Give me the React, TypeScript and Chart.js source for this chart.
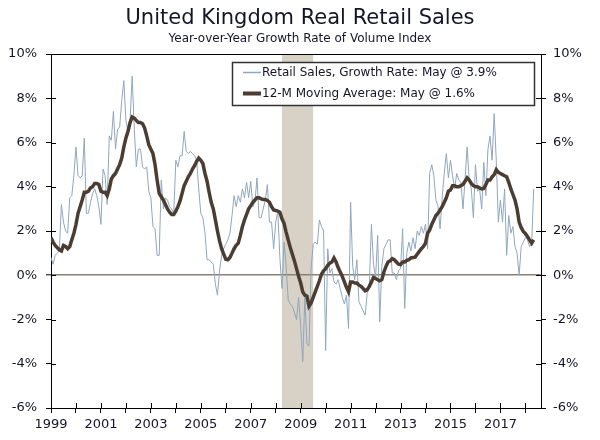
import React, { useEffect, useRef } from 'react';
import { Chart, registerables } from 'chart.js';

Chart.register(...registerables);
Chart.defaults.font.family = "'DejaVu Sans', Verdana, sans-serif";

// ---- data ----
const startYear = 1999; // first month = Jan 1999, one value per month
const titleText = 'United Kingdom Real Retail Sales';
const subtitleText = 'Year-over-Year Growth Rate of Volume Index';
const seriesLabels = [
  'Retail Sales, Growth Rate: May @ 3.9%',
  '12-M Moving Average: May @ 1.6%',
];

const retailSales: number[] = [
  // 1999
  0.8, 0.5, 0.9, 1.0, 1.1, 3.2, 2.4, 2.0, 1.9, 3.5, 3.6, 4.5,
  // 2000
  5.8, 4.5, 4.4, 4.5, 6.2, 2.8, 2.8, 3.3, 3.7, 3.9, 3.6, 3.1,
  // 2001
  2.3, 4.8, 4.5, 3.2, 6.3, 6.1, 7.4, 5.7, 6.6, 6.7, 7.9, 8.8,
  // 2002
  7.0, 6.5, 7.0, 9.0, 6.7, 4.9, 5.7, 5.7, 4.9, 4.8, 4.9, 3.8,
  // 2003
  3.5, 2.2, 2.1, 0.9, 0.9, 4.3, 3.0, 3.5, 3.4, 3.1, 3.0, 2.8,
  // 2004
  5.2, 4.9, 5.4, 5.4, 6.5, 5.6, 5.5, 5.6, 5.5, 5.4, 5.2, 3.9,
  // 2005
  2.8, 2.6, 1.9, 0.7, 0.7, 0.6, 0.5, -0.4, -0.9, 0.2, 0.9, 1.2,
  // 2006
  1.4, 1.6, 1.9, 2.7, 3.6, 3.1, 3.6, 3.3, 3.9, 3.5, 4.2, 3.5,
  // 2007
  4.25, 3.1, 3.3, 4.4, 2.6, 2.6, 3.0, 3.4, 4.1, 2.4, 2.4, 1.2,
  // 2008
  2.4, 2.9, 0.8, -0.6, 1.5, 0.4, -1.1, -1.3, -1.4, -1.7, -2.0, -1.0,
  // 2009
  -2.3, -3.9, -1.0, -3.1, -3.2, 0.3, 1.4, 1.5, 1.4, 2.5, 2.2, 2.0,
  // 2010
  -3.4, 1.2, 0.1, 0.3, -0.3, -0.4, -0.2, -0.6, -1.0, -1.3, -0.9, -2.4,
  // 2011
  3.3, 0.4, -0.2, 0.7, -1.2, -1.4, -1.6, -1.8, -0.8, -0.4, 2.3, 0.5,
  // 2012
  -0.1, 1.8, -2.1, 0.4, 1.2, 1.4, 1.6, 1.6, 0.1, 0.1, -0.2, 0.2,
  // 2013
  0.3, 2.1, -1.5, 1.0, 1.5, 1.1, 1.7, 1.2, 2.0, 1.8, 2.2, 1.9,
  // 2014
  2.3, 1.2, 4.6, 5.0, 4.5, 3.4, 3.1, 2.1, 3.5, 4.6, 5.5, 4.4,
  // 2015
  5.2, 4.5, 3.9, 4.6, 4.3, 4.2, 3.0, 4.3, 5.8, 4.3, 3.9, 2.6,
  // 2016
  5.0, 3.8, 3.9, 3.0, 5.1, 3.6, 5.7, 6.3, 5.2, 7.3, 5.2, 2.4,
  // 2017
  3.4, 2.4, 3.9, 0.9, 2.7, 1.9, 2.2, 1.3, 1.0, 0.0, 1.3, 1.5,
  // 2018
  1.7, 1.6, 1.3, 1.4, 3.9,
];

const movingAverage: number[] = [
  // 1999
  1.7, 1.5, 1.35, 1.25, 1.15, 1.1, 1.35, 1.3, 1.2, 1.3, 1.6, 1.9,
  // 2000
  2.3, 2.8, 3.1, 3.4, 3.75, 3.75, 3.8, 3.95, 4.0, 4.15, 4.15, 4.1,
  // 2001
  3.8, 3.75, 3.75, 3.6, 3.9, 4.35, 4.5, 4.6, 4.8, 5.0, 5.3, 5.8,
  // 2002
  6.2, 6.5, 6.9, 7.15, 7.1, 7.0, 6.9, 6.9, 6.85, 6.65, 6.3, 5.9,
  // 2003
  5.7, 5.5, 5.0, 4.3, 3.7, 3.55, 3.4, 3.2, 3.0, 2.85, 2.75, 2.75,
  // 2004
  2.9, 3.1, 3.35, 3.7, 4.05, 4.25, 4.45, 4.6, 4.8, 4.95, 5.15, 5.3,
  // 2005
  5.2, 5.05, 4.6, 4.25, 3.75, 3.3, 3.0, 2.5, 2.0, 1.55, 1.2, 0.95,
  // 2006
  0.72, 0.7, 0.8, 1.0, 1.2, 1.35, 1.45, 1.8, 2.2, 2.5, 2.75, 3.0,
  // 2007
  3.15, 3.3, 3.4, 3.5, 3.5, 3.45, 3.42, 3.42, 3.38, 3.3, 3.1, 2.95,
  // 2008
  2.93, 2.9, 2.85, 2.55, 2.35, 1.95, 1.6, 1.25, 0.95, 0.65, 0.3, -0.05,
  // 2009
  -0.35, -0.75, -0.9, -0.95, -1.4, -1.25, -1.0, -0.75, -0.5, -0.25, 0.05, 0.2,
  // 2010
  0.3, 0.45, 0.55, 0.6, 0.78, 0.6, 0.35, 0.15, -0.05, -0.3, -0.55, -0.75,
  // 2011
  -0.3, -0.3, -0.35, -0.35, -0.45, -0.5, -0.6, -0.7, -0.65, -0.5, -0.3, -0.1,
  // 2012
  -0.15, -0.2, -0.25, -0.2, 0.15, 0.4, 0.6, 0.65, 0.75, 0.7, 0.6, 0.5,
  // 2013
  0.48, 0.6, 0.6, 0.67, 0.7, 0.78, 0.8, 0.82, 0.95, 1.08, 1.2, 1.3,
  // 2014
  1.45, 1.9, 2.05, 2.3, 2.5, 2.7, 2.8, 2.95, 3.1, 3.3, 3.5, 3.8,
  // 2015
  3.85, 4.05, 4.05, 4.0, 4.0, 4.05, 4.1, 4.25, 4.4, 4.3, 4.15, 4.05,
  // 2016
  4.0, 4.0, 3.95, 3.9, 3.92, 4.1, 4.3, 4.3, 4.45, 4.55, 4.77, 4.65,
  // 2017
  4.6, 4.55, 4.5, 4.45, 4.2, 3.9, 3.65, 3.4, 3.0, 2.4, 2.15, 1.98,
  // 2018
  1.88, 1.75, 1.6, 1.45, 1.6,
];

const tickYears = [1999, 2000, 2001, 2002, 2003, 2004, 2005, 2006, 2007, 2008, 2009, 2010, 2011, 2012, 2013, 2014, 2015, 2016, 2017, 2018];
const labelYears = ['1999', '2001', '2003', '2005', '2007', '2009', '2011', '2013', '2015', '2017'];
const recessionPeriod = ['2008-04', '2009-07']; // shaded band (start, end month)
const yTicks = [-6, -4, -2, 0, 2, 4, 6, 8, 10];

// ---- helpers ----
const monthIndex = (ym: string) => {
  const [y, m] = ym.split('-').map(Number);
  return (y - startYear) * 12 + (m - 1);
};
const yearToMonth = (y: number) => (y - startYear) * 12;
const toPoints = (arr: number[]) => arr.map((v, i) => ({ x: i, y: v }));

const FONT = "'DejaVu Sans', Verdana, sans-serif";
const TEXT = '#15152a';

const recessionPlugin = {
  id: 'recession',
  beforeDraw(chart: any) {
    const { ctx, chartArea, scales } = chart;
    const x1 = scales.x.getPixelForValue(monthIndex(recessionPeriod[0]));
    const x2 = scales.x.getPixelForValue(monthIndex(recessionPeriod[1]));
    ctx.save();
    ctx.fillStyle = '#d8d2c6';
    ctx.fillRect(x1, chartArea.top, x2 - x1, chartArea.bottom - chartArea.top);
    ctx.restore();
  },
};

const innerTicksPlugin = {
  id: 'innerTicks',
  afterDraw(chart: any) {
    const { ctx, chartArea, scales } = chart;
    const { left, right, bottom } = chartArea;
    ctx.save();
    ctx.strokeStyle = '#000';
    ctx.lineWidth = 1;
    ctx.beginPath();
    tickYears.forEach((yr) => {
      const px = Math.round(scales.x.getPixelForValue(yearToMonth(yr))) + 0.5;
      ctx.moveTo(px, bottom);
      ctx.lineTo(px, bottom - 5);
    });
    yTicks.forEach((v) => {
      const py = Math.round(scales.y.getPixelForValue(v)) + 0.5;
      ctx.moveTo(left, py);
      ctx.lineTo(left + 5, py);
      ctx.moveTo(right, py);
      ctx.lineTo(right - 5, py);
    });
    ctx.stroke();
    ctx.restore();
  },
};

const boxLegendPlugin = {
  id: 'boxLegend',
  afterDatasetsDraw(chart: any) {
    const { ctx } = chart;
    const bx = 232.5, by = 62.5, bw = 302, bh = 43;
    ctx.save();
    ctx.fillStyle = '#fff';
    ctx.fillRect(bx, by, bw, bh);
    ctx.strokeStyle = '#333';
    ctx.lineWidth = 1.5;
    ctx.strokeRect(bx, by, bw, bh);
    const rows = [by + 10, by + 31];
    chart.data.datasets.forEach((ds: any, i: number) => {
      const yy = rows[i];
      ctx.strokeStyle = ds.borderColor;
      ctx.lineWidth = i === 0 ? 1.5 : 4;
      ctx.beginPath();
      ctx.moveTo(243, yy);
      ctx.lineTo(261, yy);
      ctx.stroke();
      ctx.fillStyle = TEXT;
      ctx.font = `12px ${FONT}`;
      ctx.textBaseline = 'middle';
      ctx.textAlign = 'left';
      ctx.fillText(ds.label, 262, yy);
    });
    ctx.restore();
  },
};

export default function App() {
  const ref = useRef<HTMLCanvasElement>(null);

  useEffect(() => {
    if (!ref.current) return;
    const yTickOpts = (padding: number) => ({
      stepSize: 2,
      padding,
      color: TEXT,
      font: { family: FONT, size: 13 },
      callback: (v: any) => `${v}%`,
    });
    const chart = new Chart(ref.current, {
      type: 'line',
      data: {
        datasets: [
          {
            label: seriesLabels[0],
            data: toPoints(retailSales),
            borderColor: '#8fa7bf',
            borderWidth: 1,
            pointRadius: 0,
            tension: 0,
            order: 2,
          },
          {
            label: seriesLabels[1],
            data: toPoints(movingAverage),
            borderColor: '#4b3d31',
            borderWidth: 3.5,
            pointRadius: 0,
            tension: 0,
            order: 1,
          },
        ],
      },
      options: {
        responsive: false,
        animation: false,
        events: [],
        layout: { padding: 0 },
        plugins: {
          legend: { display: false },
          tooltip: { enabled: false },
          title: {
            display: true,
            text: titleText,
            color: TEXT,
            font: { family: FONT, size: 21, weight: 'normal' },
            padding: { top: 6, bottom: 0 },
          },
          subtitle: {
            display: true,
            text: subtitleText,
            color: TEXT,
            font: { family: FONT, size: 12, weight: 'normal' },
            padding: { top: 0, bottom: 8.4 },
          },
        },
        scales: {
          x: {
            type: 'linear',
            min: 0,
            max: 235.5,
            afterBuildTicks: (s: any) => {
              s.ticks = tickYears.map((yr) => ({ value: yearToMonth(yr) }));
            },
            afterFit: (s: any) => {
              s.height = 32;
            },
            ticks: {
              autoSkip: false,
              maxRotation: 0,
              padding: 4,
              color: TEXT,
              font: { family: FONT, size: 13 },
              callback: (v: any) => {
                const yr = String(startYear + Math.round(Number(v) / 12));
                return labelYears.includes(yr) ? yr : '';
              },
            },
            grid: { drawOnChartArea: false, drawTicks: true, tickLength: 5, color: '#000' },
            border: { display: true, color: '#000', width: 1 },
          },
          y: {
            type: 'linear',
            position: 'left',
            min: -6,
            max: 10,
            afterFit: (s: any) => {
              s.width = 51;
            },
            ticks: yTickOpts(9),
            grid: {
              drawOnChartArea: true,
              color: (c: any) => (c.tick?.value === 0 ? '#8b8071' : c.tick?.value === 10 ? '#000' : 'rgba(0,0,0,0)'),
              lineWidth: (c: any) => (c.tick?.value === 0 ? 1.6 : 1),
              tickColor: '#000',
              tickWidth: 1,
              tickLength: 5,
            },
            border: { display: true, color: '#000', width: 1 },
          },
          y2: {
            type: 'linear',
            position: 'right',
            min: -6,
            max: 10,
            afterFit: (s: any) => {
              s.width = 59;
            },
            ticks: yTickOpts(7),
            grid: { drawOnChartArea: false, tickColor: '#000', tickLength: 5 },
            border: { display: true, color: '#000', width: 1 },
          },
        },
      },
      plugins: [recessionPlugin, innerTicksPlugin, boxLegendPlugin],
    } as any);
    return () => chart.destroy();
  }, []);

  return (
    <div style={{ position: 'absolute', left: 0, top: 0, width: 600, height: 440, background: '#fff' }}>
      <canvas ref={ref} width={600} height={440} style={{ display: 'block', width: 600, height: 440 }} />
    </div>
  );
}
